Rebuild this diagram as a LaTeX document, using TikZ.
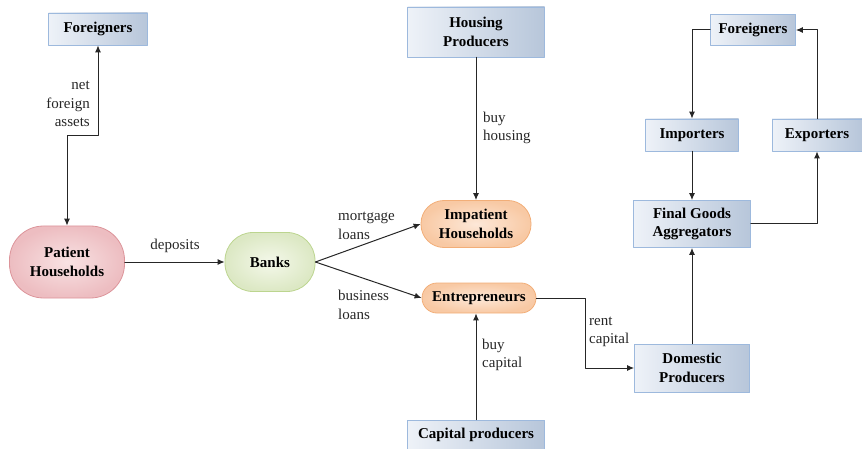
\documentclass[tikz,border=0pt]{standalone}
\usepackage{fontspec}
\setmainfont{Liberation Serif}
\usetikzlibrary{arrows.meta}

\definecolor{boxlight}{HTML}{EEF2F8}
\definecolor{boxdark}{HTML}{B7C6DA}
\definecolor{boxline}{HTML}{9DB9DD}
\definecolor{pinkin}{HTML}{F8E2E3}
\definecolor{pinkout}{HTML}{EDBDC1}
\definecolor{pinkline}{HTML}{DC949A}
\definecolor{greenin}{HTML}{F4F8EA}
\definecolor{greenout}{HTML}{DCE8C4}
\definecolor{greenline}{HTML}{BCD58F}
\definecolor{orangein}{HTML}{FDE8D8}
\definecolor{orangeout}{HTML}{F8C9A4}
\definecolor{orangeline}{HTML}{F2AE78}

\newcommand{\txtsize}{\rmfamily\fontsize{15}{18.5}\selectfont}

\tikzset{
  sector/.style={draw=boxline, line width=0.8pt, left color=boxlight, right color=boxdark,
    align=center, inner sep=0pt, font=\txtsize\bfseries},
  agent/.style={line width=0.8pt, align=center, inner sep=0pt, font=\txtsize\bfseries, shading=radial},
  flow/.style={-{Latex[length=7pt,width=6pt]}, line width=1pt, color=black!85},
  lbl/.style={inner sep=0pt, color=black!85, font=\txtsize}
}

\begin{document}
\begin{tikzpicture}[line cap=round,line join=round,x=1pt,y=-1pt]
  \useasboundingbox (0,0) rectangle (862,449);

  % sectors (boxes)
  \node[sector, minimum width=99, minimum height=32] (forl) at (98,29) {Foreigners};
  \node[sector, minimum width=137, minimum height=50] (hprod) at (476,32) {Housing\\Producers};
  \node[sector, minimum width=137, minimum height=30] (kprod) at (476,435) {Capital producers};
  \node[sector, minimum width=85, minimum height=31] (forr) at (753,30) {Foreigners};
  \node[sector, minimum width=93, minimum height=32] (imps) at (692,135) {Importers};
  \node[sector, minimum width=90, minimum height=32] (exps) at (817,135) {Exporters};
  \node[sector, minimum width=117, minimum height=47] (fga) at (692,224) {Final Goods\\Aggregators};
  \node[sector, minimum width=115, minimum height=48] (dom) at (692,368) {Domestic\\Producers};

  % agents (rounded)
  \node[agent, draw=pinkline, inner color=pinkin, outer color=pinkout, rounded corners=34,
    minimum width=115, minimum height=72] (ph) at (67,262) {Patient\\Households};
  \node[agent, draw=greenline, inner color=greenin, outer color=greenout, rounded corners=28,
    minimum width=90, minimum height=59] (banks) at (270,262) {Banks};
  \node[agent, draw=orangeline, inner color=orangein, outer color=orangeout, rounded corners=23,
    minimum width=110, minimum height=47] (iph) at (476,224) {Impatient\\Households};
  \node[agent, draw=orangeline, inner color=orangein, outer color=orangeout, rounded corners=15,
    minimum width=114, minimum height=30] (ent) at (479,298) {Entrepreneurs};

  % labels
  \node[lbl, align=right, anchor=east] (nfa) at (90,104) {net\\foreign\\assets};
  \node[lbl] (dep) at (175,246) {deposits};
  \node[lbl, align=left, anchor=west] (mort) at (338,226) {mortgage\\loans};
  \node[lbl, align=left, anchor=west] (bus) at (338,305) {business\\loans};
  \node[lbl, align=left, anchor=west] (bhous) at (483,128) {buy\\housing};
  \node[lbl, align=left, anchor=west] (bcap) at (482,355) {buy\\capital};
  \node[lbl, align=left, anchor=west] (rent) at (589,332) {rent\\capital};

  % flows
  \draw[flow, {Latex[length=7pt,width=6pt]}-{Latex[length=7pt,width=6pt]}] (ph.north) -- ++(0,-90) -| (forl.south);
  \draw[flow] (ph.east) -- (banks.west);
  \draw[flow] (banks.east) -- (iph.west);
  \draw[flow] (banks.east) -- (ent.west);
  \draw[flow] (hprod.south) -- (iph.north);
  \draw[flow] (kprod.north) -- (kprod.north |- ent.south);
  \draw[flow] (ent.east) -- ++(49,0) |- (dom.west);
  \draw[flow] (dom.north) -- (fga.south);
  \draw[flow] (imps.south) -- (fga.north);
  \draw[flow] (fga.east) -| (exps.south);
  \draw[flow] (exps.north) |- (forr.east);
  \draw[flow] (forr.west) -| (imps.north);
\end{tikzpicture}
\end{document}
